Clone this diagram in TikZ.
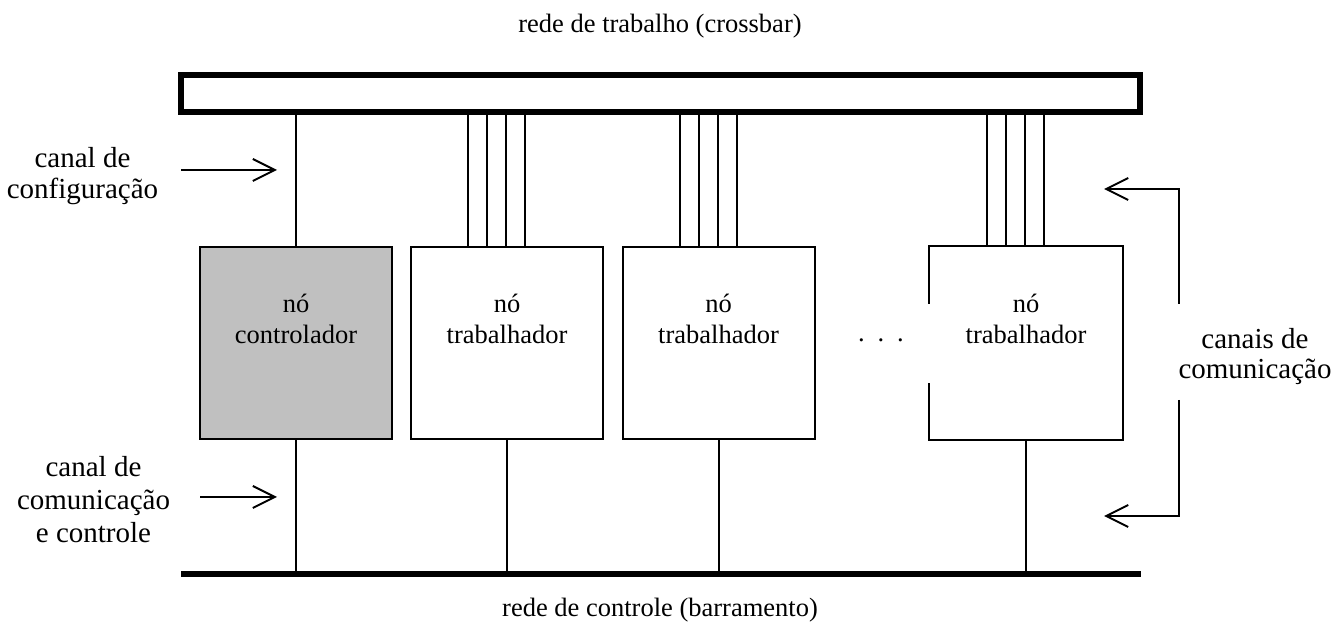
\documentclass[tikz,border=0pt]{standalone}
\usepackage{fontspec}
\setmainfont{Liberation Serif}
\usetikzlibrary{arrows.meta}
\definecolor{ctlgray}{RGB}{192,192,192}

\begin{document}
\begin{tikzpicture}[x=0.5pt,y=-0.5pt,
  wire/.style={line width=1pt},
  unit/.style={draw, line width=1pt, minimum width=96pt, minimum height=96pt, inner sep=0pt},
  lbl/.style={font=\fontsize{13.25pt}{15.5pt}\selectfont, align=center, inner sep=0pt},
  side/.style={align=center, inner sep=0pt, anchor=north},
  pointer/.style={line width=1pt, -{Straight Barb[length=11pt,width=11pt,line width=1pt]}}
]
\useasboundingbox (0,0) rectangle (1344,635);

% crossbar (work network) and bus (control network)
\node[draw, line width=3pt, minimum width=479.5pt, minimum height=18.5pt, inner sep=0pt] (xbar) at (660.5,93.5) {};
\coordinate (busL) at (181,574);
\coordinate (busR) at (1141,574);
\draw[line width=3pt] (busL) -- (busR);

% processing nodes
\node[unit, fill=ctlgray] (ctl) at (296,343) {};
\node[unit] (w1) at (507,343) {};
\node[unit] (w2) at (718.5,343) {};
\node[unit, draw=none] (w3) at (1026,343) {};
\draw[wire] ([yshift=-29pt]w3.north west) -- (w3.north west) -- (w3.north east)
  -- (w3.south east) -- (w3.south west) -- ([yshift=28.5pt]w3.south west);

\node[lbl, anchor=north] (ctlt) at ([yshift=-24pt]ctl.north) {nó\\controlador};
\node[lbl, anchor=north] (w1t) at ([yshift=-24pt]w1.north) {nó\\trabalhador};
\node[lbl, anchor=north] (w2t) at ([yshift=-24pt]w2.north) {nó\\trabalhador};
\node[lbl, anchor=north] (w3t) at ([yshift=-24pt]w3.north) {nó\\trabalhador};
\node[lbl, anchor=base] (dots) at (881,342) {.\hspace{6.45pt}.\hspace{6.45pt}.};

% configuration channel
\draw[wire] (ctl.north) -- (ctl.north |- xbar.south);

% communication channels to the crossbar
\foreach \w in {w1,w2,w3}
  \foreach \dx in {29pt,38.5pt,48pt,57.5pt} {
    \coordinate (ch) at ([xshift=\dx]\w.north west);
    \draw[wire] (ch) -- (ch |- xbar.south);
  }

% links to the control bus
\foreach \n in {ctl,w1,w2,w3}
  \draw[wire] (\n.south) -- (\n.south |- busL);

% captions
\node[lbl, anchor=base] (ttop) at (660,33) {rede de trabalho (crossbar)};
\node[lbl, anchor=base] (tbot) at (660,617) {rede de controle (barramento)};
\node[side, font=\fontsize{14.5pt}{15.5pt}\selectfont] (cfg) at (82.5,147) {canal de\\configuração};
\node[side, font=\fontsize{14.5pt}{16.5pt}\selectfont] (cmc) at (93.5,456) {canal de\\comunicação\\e controle};
\node[side, font=\fontsize{14.5pt}{15pt}\selectfont] (chs) at (1255,328) {canais de\\comunicação};

% pointers
\coordinate (cfgA) at (181,170);
\coordinate (cfgB) at (277,170);
\draw[pointer] (cfgA) -- (cfgB);
\coordinate (cmcA) at (200,497);
\coordinate (cmcB) at (277,497);
\draw[pointer] (cmcA) -- (cmcB);
\coordinate (chsA) at (1179,304);
\coordinate (chsB) at (1104,189);
\draw[pointer] (chsA) |- (chsB);
\coordinate (chsC) at (1179,400);
\coordinate (chsD) at (1104,516);
\draw[pointer] (chsC) |- (chsD);
\end{tikzpicture}
\end{document}
